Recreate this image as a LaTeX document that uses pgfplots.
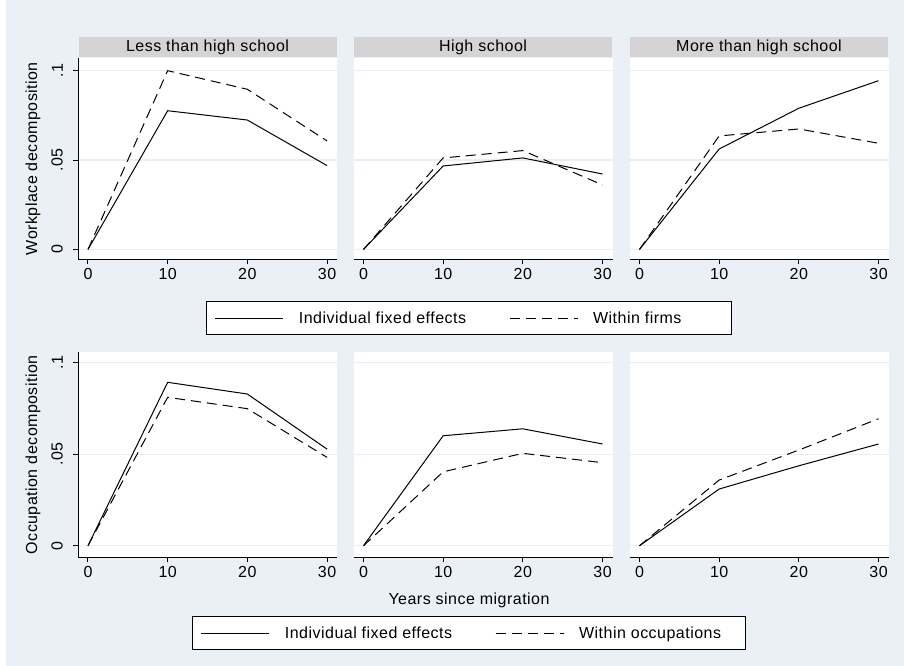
\documentclass[border=0pt]{standalone}
\usepackage{fontspec}
\setmainfont{Liberation Sans}[LetterSpace=3]
\usepackage{pgfplots}
\pgfplotsset{compat=1.18}
\definecolor{bgc}{RGB}{234,240,245}
\definecolor{stripc}{RGB}{213,211,214}
\definecolor{gridc}{RGB}{232,238,241}
\pgfplotsset{
 panel/.style={
  scale only axis, width=259bp,
  xmin=-1.25, xmax=31.25,
  axis x line*=bottom, axis y line*=left,
  axis line style={-, black, line width=1bp},
  xtick={0,10,20,30}, xticklabels={0,10,20,30},
  ytick={0,0.05,0.1}, yticklabels={0,.05,.1},
  /pgf/number format/assume math mode=true,
  tick align=outside, major tick length=5bp,
  tick style={black, line width=1bp},
  ymajorgrids, major grid style={gridc, line width=1.2bp},
  axis background/.style={fill=white},
  xticklabel style={anchor=north, inner sep=0pt, yshift=-4bp},
  yticklabel style={xshift=-10bp, rotate=90, anchor=south, inner sep=0pt},
  every axis title/.style={at={(axis description cs:0.5,1)}, anchor=south, fill=stripc, draw=bgc, line width=1bp, minimum width=259bp, minimum height=21bp, inner sep=0pt},
  legend columns=2,
  legend image code/.code={\draw[##1,line width=1bp] (0bp,5bp) -- (68bp,5bp);},
 },
 inner/.style={y axis line style={draw=none}, ytick style={draw=none}, yticklabels={}},
 toprow/.style={height=201.3bp, ymin=-0.0055, ymax=0.1071},
 botrow/.style={height=205bp, ymin=-0.0063, ymax=0.1057},
 sol/.style={black, line width=1bp},
 das/.style={black, line width=1bp, dash pattern=on 10bp off 6bp},
 leg/.style={legend style={at={(axis description cs:0.446,#1)}, anchor=north, draw=black, line width=1bp, fill=white, inner xsep=8bp, inner ysep=10bp, column sep=0pt, row sep=0pt, nodes={inner sep=0pt, anchor=base west}, /tikz/every odd column/.append style={column sep=15bp}, /tikz/every even column/.append style={column sep=43bp}}},
}
\begin{document}
\begin{tikzpicture}[font=\fontsize{16bp}{19bp}\selectfont]
\useasboundingbox (0,0) rectangle (904bp,666bp);
\fill[white] (0,0) rectangle (904bp,666bp);
\fill[bgc] (6bp,0) rectangle (904bp,666bp);

% ---------- top row ----------
\begin{axis}[panel, toprow, at={(78bp,406.7bp)}, anchor=south west,
  title={Less than high school},
  ylabel={Workplace decomposition},
  ylabel style={at={(axis description cs:-0.174,0.5)}, anchor=center, rotate=0}]
\addplot[sol] coordinates {(0,0) (10,0.0776) (20,0.0724) (30,0.0469)};
\addplot[das] coordinates {(0,0) (10,0.1000) (20,0.0896) (30,0.0607)};
\end{axis}
\begin{axis}[panel, inner, toprow, at={(353.5bp,406.7bp)}, anchor=south west,
  title={High school}, leg=-0.207]
\addplot[sol] coordinates {(0,0) (10,0.0467) (20,0.0512) (30,0.0422)};
\addplot[das] coordinates {(0,0) (10,0.0512) (20,0.0553) (30,0.0361)};
\legend{Individual fixed effects, \makebox[130bp][l]{Within firms}}
\end{axis}
\begin{axis}[panel, inner, toprow, at={(629.5bp,406.7bp)}, anchor=south west,
  title={More than high school}]
\addplot[sol] coordinates {(0,0) (10,0.0562) (20,0.0790) (30,0.0944)};
\addplot[das] coordinates {(0,0) (10,0.0635) (20,0.0674) (30,0.0594)};
\end{axis}

% ---------- bottom row ----------
\begin{axis}[panel, botrow, at={(78bp,108.7bp)}, anchor=south west,
  ylabel={Occupation decomposition},
  ylabel style={at={(axis description cs:-0.174,0.5)}, anchor=center, rotate=0}]
\addplot[sol] coordinates {(0,0) (10,0.0893) (20,0.0829) (30,0.0528)};
\addplot[das] coordinates {(0,0) (10,0.0811) (20,0.0749) (30,0.0483)};
\end{axis}
\begin{axis}[panel, inner, botrow, at={(353.5bp,108.7bp)}, anchor=south west,
  xlabel={Years since migration},
  xlabel style={at={(axis description cs:0.446,-0.208)}, anchor=center},
  leg=-0.286]
\addplot[sol] coordinates {(0,0) (10,0.0601) (20,0.0639) (30,0.0556)};
\addplot[das] coordinates {(0,0) (10,0.0404) (20,0.0505) (30,0.0454)};
\legend{Individual fixed effects, \makebox[158bp][l]{Within occupations}}
\end{axis}
\begin{axis}[panel, inner, botrow, at={(629.5bp,108.7bp)}, anchor=south west]
\addplot[sol] coordinates {(0,0) (10,0.0310) (20,0.0437) (30,0.0556)};
\addplot[das] coordinates {(0,0) (10,0.0359) (20,0.0523) (30,0.0694)};
\end{axis}
\end{tikzpicture}
\end{document}
